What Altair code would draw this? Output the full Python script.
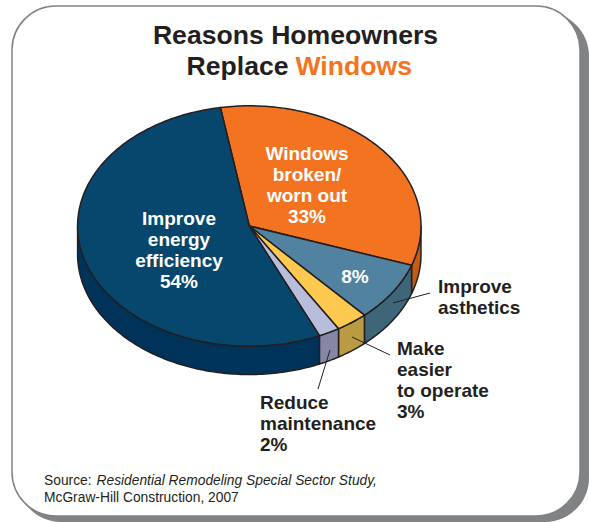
import math
import altair as alt

# Survey shares, clockwise from the top of the pie
reasons = ["Windows broken/worn out", "Improve asthetics", "Make easier to operate",
           "Reduce maintenance", "Improve energy efficiency"]
shares = [33, 8, 3, 2, 54]
top_colors = ["#f47321", "#51829f", "#fec94e", "#b9bddc", "#07476e"]
side_colors = ["#c55a11", "#3f6579", "#bb9b42", "#8587a5", "#00335a"]

START_DEG = -9.7   # where the first slice begins, 0 = straight up
TILT = 0.7         # vertical squash of the disc
DEPTH = 0.165      # thickness of the disc, in radii
INK = "#231f20"
FONT = "Liberation Sans"


def rim(deg, drop=0.0):
    t = math.radians(deg)
    return [math.sin(t), TILT * math.cos(t) - drop]


def arc(a, b, drop=0.0):
    n = max(2, int(abs(b - a)) + 1)
    return [rim(a + (b - a) * i / n, drop) for i in range(n + 1)]


def feature(name, color, ring):
    return {"type": "Feature", "properties": {"name": name, "color": color},
            "geometry": {"type": "Polygon", "coordinates": [ring + [ring[0]]]}}


# Turn the shares into top faces and the visible part of the outer wall
tops, walls = [], []
angle = START_DEG
for name, share, top, side in zip(reasons, shares, top_colors, side_colors):
    end = angle + share * 3.6
    tops.append(feature(name, top, [[0, 0]] + arc(angle, end)))
    lo, hi = max(angle, 90), min(end, 270)
    if lo < hi:
        walls.append(feature(name, side, arc(lo, hi) + arc(hi, lo, DEPTH)))
    angle = end


def shapes(features):
    data = alt.InlineData(values={"type": "FeatureCollection", "features": features},
                          format=alt.DataFormat(property="features", type="json"))
    return (
        alt.Chart(data)
        .mark_geoshape(stroke=INK, strokeWidth=1.5, strokeJoin="round")
        .encode(color=alt.Color("properties.color:N", scale=None, legend=None))
        .project(type="identity", reflectY=True, scale=171.7, translate=[249.3, 226])
    )


def box(x, x2, y, y2, **style):
    return (
        alt.Chart(alt.Data(values=[{}]))
        .mark_rect(cornerRadius=44, **style)
        .encode(x=alt.value(x), x2=alt.value(x2), y=alt.value(y), y2=alt.value(y2))
    )


def label(text, x, y, size=19, color=INK, align="left", weight="bold", style="normal"):
    return (
        alt.Chart(alt.Data(values=[{"t": text}]))
        .mark_text(font=FONT, fontSize=size, fontWeight=weight, fontStyle=style,
                   color=color, align=align, baseline="alphabetic")
        .encode(x=alt.value(x), y=alt.value(y), text="t:N")
    )


def block(lines, x, y, step=21, **kw):
    return [label(line, x, y + i * step, **kw) for i, line in enumerate(lines)]


def leader(x, y, x2, y2):
    return (
        alt.Chart(alt.Data(values=[{}]))
        .mark_rule(color=INK, strokeWidth=1)
        .encode(x=alt.value(x), x2=alt.value(x2), y=alt.value(y), y2=alt.value(y2))
    )


layers = [
    box(17, 589, 12, 522, color="#808285"),
    box(12, 580, 6, 516, color="white", stroke="#808285", strokeWidth=1.5),
    shapes(walls),
    shapes(tops),
    leader(393, 303, 430, 293),
    leader(352, 337, 390, 355),
    leader(330, 350, 318, 389),
    label("Reasons Homeowners", 295.5, 44, size=26.6, align="center"),
    label("Replace", 288.5, 75, size=26.6, align="right"),
    label("Windows", 295.5, 75, size=26.6, color="#f47321"),
    *block(["Windows", "broken/", "worn out", "33%"], 307, 160, color="white", align="center"),
    *block(["Improve", "energy", "efficiency", "54%"], 179, 225, color="white", align="center"),
    label("8%", 355, 283, color="white", align="center"),
    *block(["Improve", "asthetics"], 438, 293),
    *block(["Make", "easier", "to operate", "3%"], 397, 355),
    *block(["Reduce", "maintenance", "2%"], 260, 409),
    label("Source:", 44, 485, size=13.8, weight="normal"),
    label("Residential Remodeling Special Sector Study,", 96.5, 485, size=13.8,
          weight="normal", style="italic"),
    label("McGraw-Hill Construction, 2007", 44, 502, size=13.8, weight="normal"),
]

chart = (
    alt.layer(*layers)
    .properties(width=589, height=522, padding=0, autosize=alt.AutoSizeParams(type="none"),
                background="white")
    .configure_view(stroke=None)
)

chart.save("out.html", embed_options={"renderer": "svg", "actions": False})
